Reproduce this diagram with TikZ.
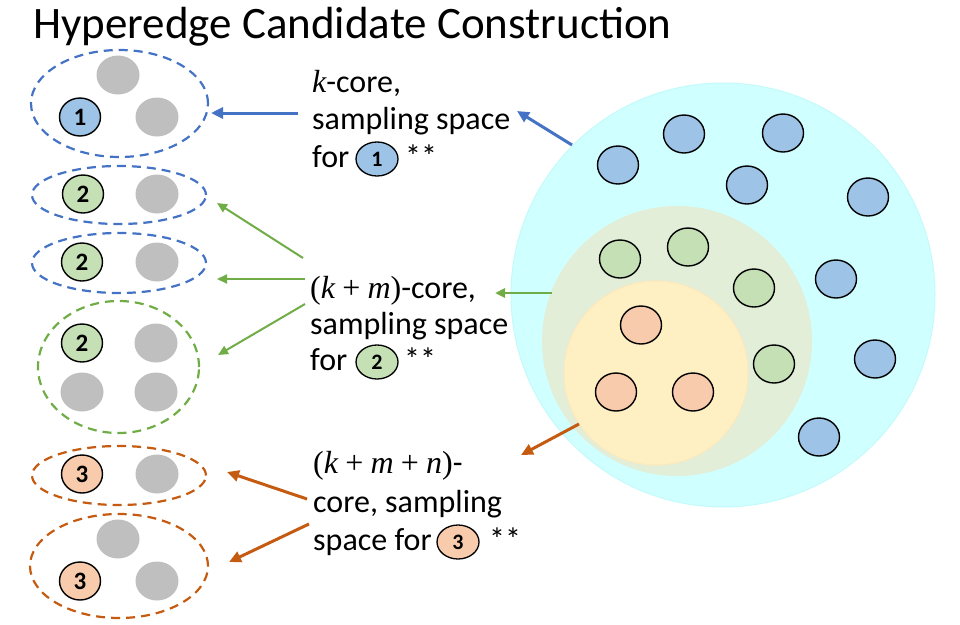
\documentclass[tikz,border=0pt]{standalone}
\usepackage{fontspec}
\setmainfont{Carlito}
\newfontfamily\mf{Liberation Serif}
\newcommand{\mv}[1]{{\mf\itshape #1}}
\newcommand{\mo}[1]{{\mf #1}}
\usetikzlibrary{shapes.geometric,arrows.meta}
\definecolor{nblue}{HTML}{9DC3E6}
\definecolor{ngreen}{HTML}{C5E0B4}
\definecolor{norange}{HTML}{F8CBAD}
\definecolor{ngray}{HTML}{BFBFBF}
\definecolor{lblue}{HTML}{4472C4}
\definecolor{lgreen}{HTML}{70AD47}
\definecolor{lorange}{HTML}{C55A11}
\definecolor{cyanfill}{RGB}{208,255,255}
\definecolor{cyanedge}{RGB}{196,250,250}
\definecolor{olivefill}{RGB}{226,238,216}
\definecolor{yellowfill}{RGB}{255,240,196}
\definecolor{yellowedge}{RGB}{255,232,185}
\begin{document}
\begin{tikzpicture}[x=1pt,y=-1pt,
  dot/.style={ellipse, draw=black, line width=1.4pt, minimum width=41pt, minimum height=38pt, inner sep=0pt, font=\fontsize{25}{25}\selectfont\bfseries},
  bdot/.style={dot, fill=nblue},
  gdot/.style={dot, fill=ngreen},
  odot/.style={dot, fill=norange},
  grey/.style={ellipse, fill=ngray, minimum width=43pt, minimum height=39pt, inner sep=0pt},
  grp/.style={ellipse, line width=2.2pt, dash pattern=on 9pt off 6pt, inner sep=0pt},
  tx/.style={anchor=base west, inner sep=0pt, font=\fontsize{32}{38}\selectfont},
  inl/.style={ellipse, draw=black, line width=1.3pt, minimum width=42pt, minimum height=34pt, inner sep=0pt, font=\fontsize{22}{22}\selectfont\bfseries},
  barrow/.style={draw=lblue, line width=3pt, -{Triangle[length=12pt,width=11pt]}},
  garrow/.style={draw=lgreen, line width=2pt, -{Triangle[length=10pt,width=9pt]}},
  oarrow/.style={draw=lorange, line width=3pt, -{Triangle[length=12pt,width=11pt]}}
]
\useasboundingbox (0,0) rectangle (960,624);

% title
\node[anchor=base west, inner sep=0pt, font=\fontsize{45}{45}\selectfont] (title) at (33,38) {Hyperedge Candidate Construction};

% right: nested cores
\node[circle, fill=cyanfill, draw=cyanedge, line width=1pt, minimum size=424pt, inner sep=0pt] (kcore) at (723,295) {};
\node[circle, fill=olivefill, minimum size=270pt, inner sep=0pt] (kmcore) at (677,341) {};
\node[circle, fill=yellowfill, draw=yellowedge, line width=1pt, minimum size=184pt, inner sep=0pt] (kmncore) at (656,373) {};

\node[bdot] (b1) at (618,165) {};
\node[bdot] (b2) at (684,134) {};
\node[bdot] (b3) at (783,133) {};
\node[bdot] (b4) at (747,185) {};
\node[bdot] (b5) at (868,197) {};
\node[bdot] (b6) at (836,279) {};
\node[bdot] (b7) at (875,359) {};
\node[bdot] (b8) at (819,437) {};
\node[gdot] (g1) at (620,259) {};
\node[gdot] (g2) at (688,247) {};
\node[gdot] (g3) at (754,288) {};
\node[gdot] (g4) at (774,364) {};
\node[odot] (o1) at (641,325) {};
\node[odot] (o2) at (616,392) {};
\node[odot] (o3) at (693,392) {};

% left: hyperedge candidates
\node[grp, draw=lblue, minimum width=177pt, minimum height=107pt] (E1) at (119.5,103.5) {};
\node[grey] (E1a) at (118,75) {};
\node[bdot] (E1n) at (80,117) {1};
\node[grey] (E1b) at (157,117) {};

\node[grp, draw=lblue, minimum width=174pt, minimum height=58pt] (E2) at (119,195) {};
\node[gdot] (E2n) at (83,194) {2};
\node[grey] (E2a) at (157,194) {};

\node[grp, draw=lblue, minimum width=174pt, minimum height=60pt] (E3) at (119,263) {};
\node[gdot] (E3n) at (82,262) {2};
\node[grey] (E3a) at (157,262) {};

\node[grp, draw=lgreen, minimum width=161pt, minimum height=132pt] (E4) at (118.5,367) {};
\node[gdot] (E4n) at (82,343) {2};
\node[grey] (E4a) at (156,343) {};
\node[grey] (E4b) at (82,392) {};
\node[grey] (E4c) at (156,392) {};

\node[grp, draw=lorange, minimum width=174pt, minimum height=59pt] (E5) at (119,475.5) {};
\node[odot] (E5n) at (82,474) {3};
\node[grey] (E5a) at (157,474) {};

\node[grp, draw=lorange, minimum width=178pt, minimum height=104pt] (E6) at (119,566) {};
\node[grey] (E6a) at (118,539) {};
\node[odot] (E6n) at (80,581) {3};
\node[grey] (E6b) at (157,581) {};

% middle texts
\node[tx] (t1a) at (312,92) {\mv{k}-core,};
\node[tx] (t1b) at (312,129) {sampling space};
\node[tx] (t1c) at (312,167) {for};
\node[inl, fill=nblue] (t1n) at (377,159) {1};
\node[tx] (t1d) at (405,167) {**};

\node[tx] (t2a) at (310,298) {\mo{(}\mv{k} \mo{+} \mv{m}\mo{)}-core,};
\node[tx] (t2b) at (310,334) {sampling space};
\node[tx] (t2c) at (310,370) {for};
\node[inl, fill=ngreen] (t2n) at (377,362) {2};
\node[tx] (t2d) at (404,370) {**};

\node[tx] (t3a) at (313,473) {\mo{(}\mv{k} \mo{+} \mv{m} \mo{+} \mv{n}\mo{)}-};
\node[tx] (t3b) at (313,512) {core, sampling};
\node[tx] (t3c) at (313,550) {space for};
\node[inl, fill=norange] (t3n) at (458,542) {3};
\node[tx] (t3d) at (489,550) {**};

% arrow end points
\coordinate (a1s) at (298,113);  \coordinate (a1e) at (211,113);
\coordinate (a2s) at (303,258);  \coordinate (a2e) at (217,203);
\coordinate (a3s) at (305,279);  \coordinate (a3e) at (217,279);
\coordinate (a4s) at (305,304);  \coordinate (a4e) at (218,355);
\coordinate (a5s) at (307,499);  \coordinate (a5e) at (227,472);
\coordinate (a6s) at (309,524);  \coordinate (a6e) at (229,562);
\coordinate (r1s) at (572,145);  \coordinate (r1e) at (517,111);
\coordinate (r2s) at (552,293);  \coordinate (r2e) at (495,293);
\coordinate (r3s) at (579,424);  \coordinate (r3e) at (521,455);

\draw[barrow] (a1s) -- (a1e);
\draw[garrow] (a2s) -- (a2e);
\draw[garrow] (a3s) -- (a3e);
\draw[garrow] (a4s) -- (a4e);
\draw[oarrow] (a5s) -- (a5e);
\draw[oarrow] (a6s) -- (a6e);
\draw[barrow] (r1s) -- (r1e);
\draw[garrow, line width=2.5pt] (r2s) -- (r2e);
\draw[oarrow] (r3s) -- (r3e);
\end{tikzpicture}
\end{document}
